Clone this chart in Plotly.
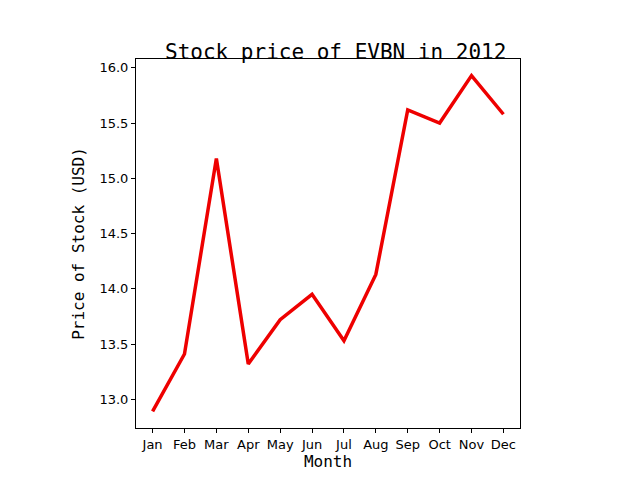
import plotly.graph_objects as go

months = ["Jan", "Feb", "Mar", "Apr", "May", "Jun", "Jul", "Aug", "Sep", "Oct", "Nov", "Dec"]
prices = [12.89, 13.41, 15.18, 13.32, 13.72, 13.95, 13.53, 14.13, 15.62, 15.50, 15.93, 15.58]
y_ticks = [13.0, 13.5, 14.0, 14.5, 15.0, 15.5, 16.0]

fig = go.Figure(go.Scatter(x=list(range(len(months))), y=prices, mode="lines",
                           line=dict(color="#ee0000", width=3.5)))

axis_style = dict(showgrid=False, zeroline=False, showline=True, linecolor="black", linewidth=1,
                  mirror=True, ticks="outside", ticklen=4, tickcolor="black",
                  tickfont=dict(family="DejaVu Sans", size=13, color="black"))

fig.update_layout(
    width=640, height=480,
    paper_bgcolor="white", plot_bgcolor="white",
    margin=dict(l=128, r=128, t=51, b=60),
    showlegend=False,
    title=dict(text="Stock price of EVBN in 2012", x=0.512, xanchor="center", y=0.91, yanchor="middle",
               font=dict(family="DejaVu Sans Mono", size=21, color="black")),
    xaxis=dict(axis_style, tickvals=list(range(len(months))), ticktext=months, range=[-0.52, 11.52],
               title=dict(text="Month", standoff=4, font=dict(family="DejaVu Sans Mono", size=16, color="black"))),
    yaxis=dict(axis_style, tickvals=y_ticks, ticktext=[f"{v:.1f}" for v in y_ticks], range=[12.74, 16.08],
               title=dict(text="Price of Stock (USD)", standoff=10, font=dict(family="DejaVu Sans Mono", size=16, color="black"))),
)

fig.write_html("out.html")
